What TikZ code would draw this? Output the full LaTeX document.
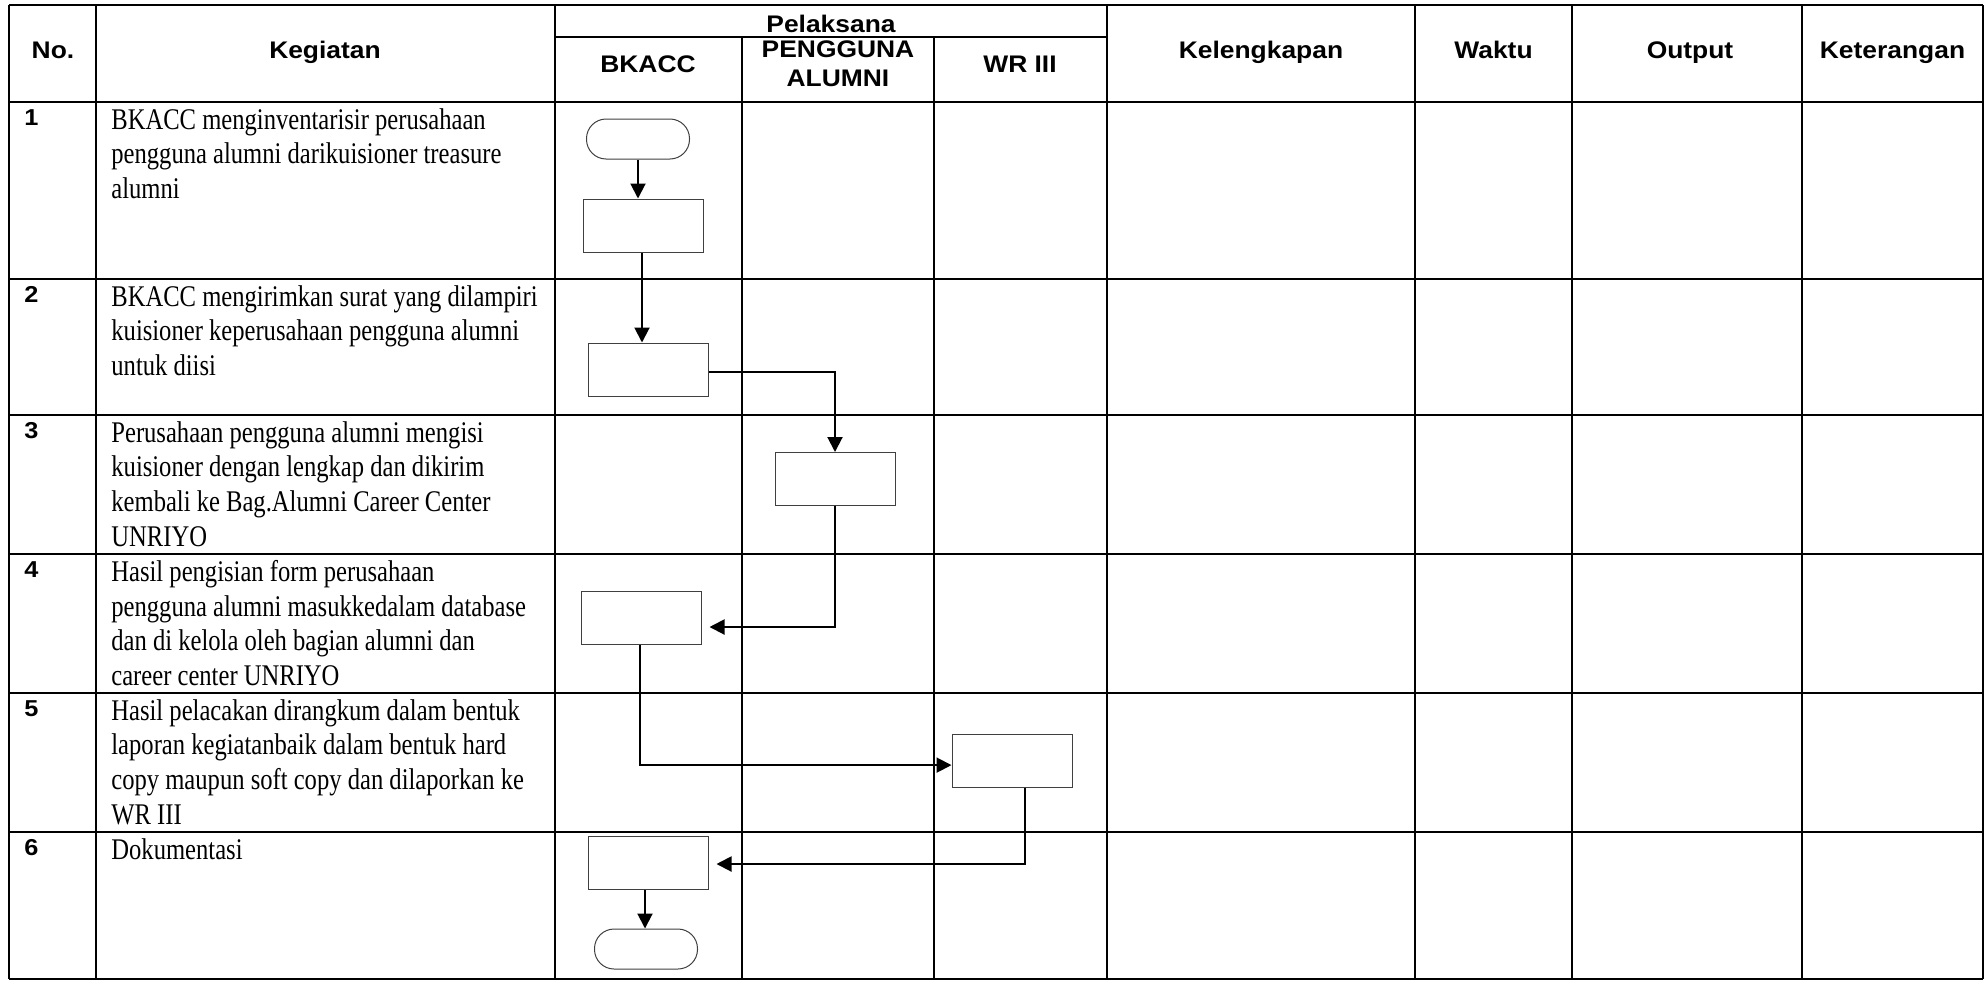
\documentclass[tikz,border=0pt]{standalone}
\usepackage{fontspec}
\setmainfont{Liberation Serif}
\newfontfamily\hdrfont[FakeStretch=1.1]{Liberation Sans}
\newfontfamily\actfont[FakeStretch=0.82]{Liberation Serif}
\usetikzlibrary{arrows.meta,calc}
\begin{document}
\begin{tikzpicture}[x=0.5pt,y=-0.5pt,
  grid/.style={line width=1.1pt},
  hdr/.style={font=\hdrfont\bfseries\fontsize{12}{14.5}\selectfont, align=center, inner sep=0, anchor=base},
  num/.style={font=\hdrfont\bfseries\fontsize{11.5}{13}\selectfont, anchor=base west, inner sep=0},
  act/.style={font=\actfont\fontsize{15}{17.3}\selectfont, align=left, anchor=north west, inner sep=0},
  proc/.style={draw=black!75, line width=0.5pt, fill=white, minimum width=60pt, minimum height=26.5pt, inner sep=0},
  term/.style={draw=black!75, line width=0.5pt, fill=white, minimum width=51.5pt, minimum height=20pt, rounded corners=9.8pt, inner sep=0},
  flow/.style={line width=1pt, -{Triangle[length=7.5pt,width=7.5pt]}},
  link/.style={line width=1pt}]
\useasboundingbox (0,0) rectangle (1986,982);
% table grid
\foreach \yy in {5,102,279,415,554,693,832,979} \draw[grid] (9,\yy) -- (1983,\yy);
\draw[grid] (555,37) -- (1107,37);
\foreach \xx in {9,96,555,1107,1415,1572,1802,1983} \draw[grid] (\xx,5) -- (\xx,979);
\foreach \xx in {742,934} \draw[grid] (\xx,37) -- (\xx,979);
% headers
\node[hdr] (hno) at (53,58) {No.};
\node[hdr] (hkeg) at (325,58) {Kegiatan};
\node[hdr] (hpel) at (831,32) {Pelaksana};
\node[hdr] (hbk) at (648,72) {BKACC};
\node[hdr, anchor=center] (hpa) at (838,64) {PENGGUNA\\ALUMNI};
\node[hdr] (hwr) at (1020,72) {WR III};
\node[hdr] (hkel) at (1261,58) {Kelengkapan};
\node[hdr] (hwak) at (1493.5,58) {Waktu};
\node[hdr] (hout) at (1690,58) {Output};
\node[hdr] (hket) at (1892.5,58) {Keterangan};
% numbers
\node[num] (n1) at (24,125.5) {1};
\node[num] (n2) at (24,302.5) {2};
\node[num] (n3) at (24,438.5) {3};
\node[num] (n4) at (24,577.5) {4};
\node[num] (n5) at (24,716.5) {5};
\node[num] (n6) at (24,855.5) {6};
% activities (first baseline 20px below node top)
\node[act] (a1) at (111,108) {\rule{0pt}{10pt}BKACC menginventarisir perusahaan\\pengguna alumni darikuisioner treasure\\alumni};
\node[act] (a2) at (111,285) {\rule{0pt}{10pt}BKACC mengirimkan surat yang dilampiri\\kuisioner keperusahaan pengguna alumni\\untuk diisi};
\node[act] (a3) at (111,421) {\rule{0pt}{10pt}Perusahaan pengguna alumni mengisi\\kuisioner dengan lengkap dan dikirim\\kembali ke Bag.Alumni Career Center\\UNRIYO};
\node[act] (a4) at (111,560) {\rule{0pt}{10pt}Hasil pengisian form perusahaan\\pengguna alumni masukkedalam database\\dan di kelola oleh bagian alumni dan\\career center UNRIYO};
\node[act] (a5) at (111,699) {\rule{0pt}{10pt}Hasil pelacakan dirangkum dalam bentuk\\laporan kegiatanbaik dalam bentuk hard\\copy maupun soft copy dan dilaporkan ke\\WR III};
\node[act] (a6) at (111,838) {\rule{0pt}{10pt}Dokumentasi};
% flowchart
\node[term] (t1) at (638,139) {};
\node[proc] (b1) at (643,225.5) {};
\node[proc] (b2) at (648,369.5) {};
\node[proc] (b3) at (835,479) {};
\node[proc] (b4) at (641,618) {};
\node[proc] (b5) at (1012,760.5) {};
\node[proc] (b6) at (648,863) {};
\node[term] (t2) at (646,949) {};
\draw[flow] (t1.south) -- (t1.south |- b1.north);
\draw[flow] ([xshift=-0.5pt]b1.south) -- ([xshift=-0.5pt]b1.south |- b2.north);
\draw[flow] ([yshift=-1pt]b2.east) -| (b3.north);
\draw[flow] (b3.south) |- ([xshift=4pt,yshift=-4.5pt]b4.east);
\draw[flow] ([xshift=-0.5pt]b4.south) |- ([yshift=-2.3pt]b5.west);
\draw[flow] ([xshift=6.3pt]b5.south) |- ([xshift=4pt,yshift=-0.5pt]b6.east);
\draw[flow] ([xshift=-1.5pt]b6.south) -- ([xshift=-1.5pt]b6.south |- t2.north);
\end{tikzpicture}
\end{document}
